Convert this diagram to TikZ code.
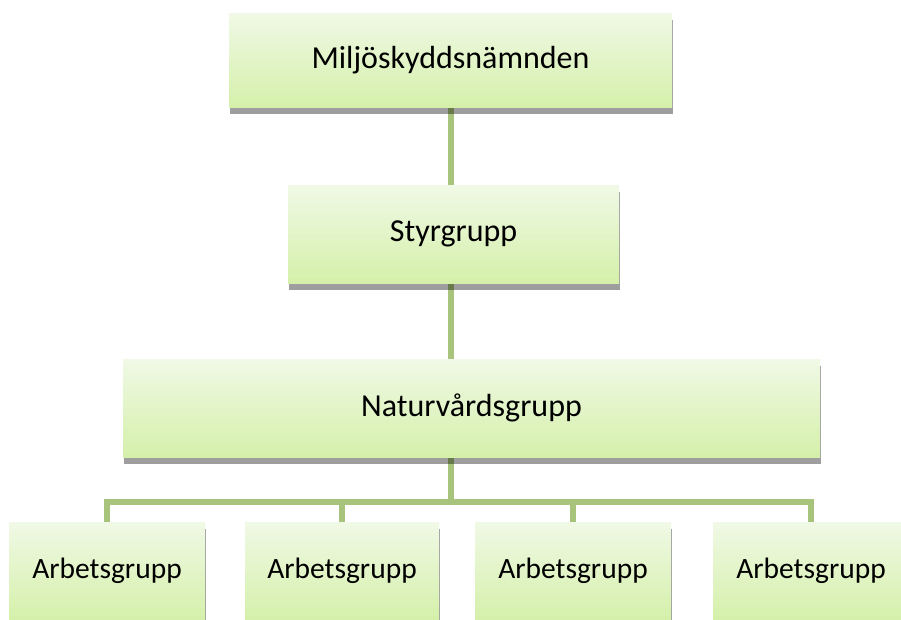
\documentclass[tikz,border=0pt]{standalone}
\usepackage{fontspec}
\setmainfont{Carlito}
\usetikzlibrary{shadows,backgrounds}
\definecolor{boxtop}{RGB}{240,249,230}
\definecolor{boxbot}{RGB}{213,240,170}
\definecolor{conn}{RGB}{168,196,124}
\tikzset{
  orgbox/.style={rectangle, top color=boxtop, bottom color=boxbot, draw=none,
    inner sep=0pt, minimum height=98pt,
    font=\fontsize{32}{38}\selectfont,
    drop shadow={shadow xshift=1pt, shadow yshift=-7pt, opacity=0.38, fill=black}},
  leafbox/.style={orgbox, minimum width=196pt, font=\fontsize{29.5}{35}\selectfont},
  connector/.style={draw=conn, line width=6pt}
}
\begin{document}
\begin{tikzpicture}[x=1pt,y=1pt]
\useasboundingbox (0,0) rectangle (901,-619);
\clip (0,0) rectangle (901,-619);
\node[orgbox, minimum width=443pt, minimum height=94pt] (mil) at (450.5,-60) {Miljöskyddsnämnden};
\node[orgbox, minimum width=331pt] (sty) at (453.5,-234) {Styrgrupp};
\node[orgbox, minimum width=697pt] (nat) at (471.5,-408) {Naturvårdsgrupp};
\node[leafbox] (a1) at (107,-571) {Arbetsgrupp};
\node[leafbox, minimum width=194pt] (a2) at (342,-571) {Arbetsgrupp};
\node[leafbox] (a3) at (573,-571) {Arbetsgrupp};
\node[leafbox] (a4) at (811,-571) {Arbetsgrupp};
\coordinate (bus) at (0,-502);
\begin{pgfonlayer}{background}
\draw[connector] (mil.south) -- (mil.south |- sty.north);
\draw[connector] (mil.south |- sty.south) -- (mil.south |- nat.north);
\draw[connector] (mil.south |- nat.south) -- (mil.south |- bus);
\draw[connector] (a1.north) -- (a1.north |- bus) -- (a4.north |- bus) -- (a4.north);
\draw[connector] (a2.north) -- (a2.north |- bus);
\draw[connector] (a3.north) -- (a3.north |- bus);
\end{pgfonlayer}
\end{tikzpicture}
\end{document}
